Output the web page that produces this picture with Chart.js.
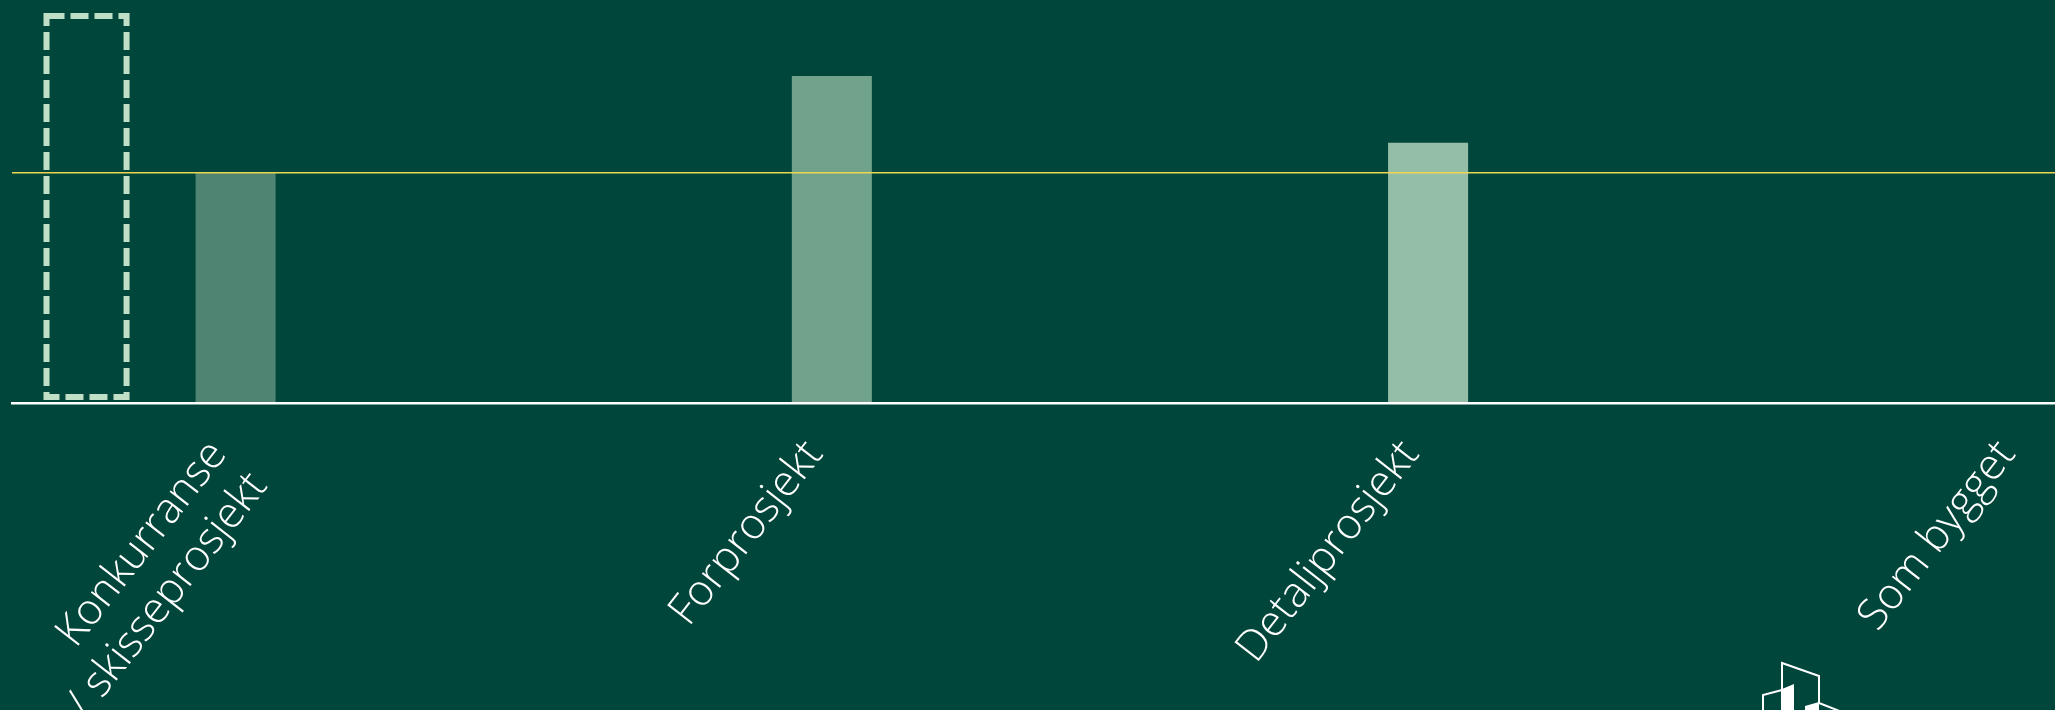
<!DOCTYPE html>
<html>
<head>
    <meta charset="utf-8">
    <style>
        body {
            margin: 0;
            padding: 0;
            overflow: hidden;
            background-color: #00463B;
        }
        #chartContainer {
            width: 2400px; /* wider than the window, the right part is cropped like the original */
            height: 710px;
        }
    </style>
</head>
<body>
    <div id="chartContainer">
        <canvas id="costChart"></canvas>
    </div>

    <script src="https://cdn.jsdelivr.net/npm/chart.js"></script>

    <script>
const phases = [["Konkurranse", "/ skisseprosjekt"], "Forprosjekt", "Detaljprosjekt", "Som bygget"];

// indexed so the reference line = 100
const rammeValues = [168, null, null, null];     // dashed frame
const kostnadValues = [100, 142, 113, null];      // cost per phase
const serie3Values = [null, null, null, null];
const serie4Values = [null, null, null, null];
const referanseNivaa = 100;

const barColors = ["#4E8471", "#71A28B", "#95BEA9", "#B7D6C4"];

// dashed outline around the frame bars
const dashedFrame = {
    id: 'dashedFrame',
    afterDatasetsDraw(chart) {
        const ctx = chart.ctx;
        const meta = chart.getDatasetMeta(0);
        meta.data.forEach((bar, i) => {
            if (rammeValues[i] == null) return;
            const p = bar.getProps(['x', 'y', 'base', 'width'], true);
            ctx.save();
            ctx.setLineDash([18, 6]);
            ctx.lineWidth = 6;
            ctx.strokeStyle = '#BFDFC6';
            ctx.strokeRect(p.x - p.width / 2, p.y, p.width, p.base - p.y - 6);
            ctx.restore();
        });
    }
};

// building logo, bottom right (cut off by the frame)
const logo = {
    id: 'logo',
    afterDraw(chart) {
        const ctx = chart.ctx;
        ctx.save();
        ctx.strokeStyle = '#FFFFFF';
        ctx.fillStyle = '#FFFFFF';
        ctx.lineWidth = 2;
        ctx.beginPath();
        ctx.moveTo(1782, 712); ctx.lineTo(1782, 663); ctx.lineTo(1819, 676); ctx.lineTo(1819, 703);
        ctx.lineTo(1842, 712);
        ctx.moveTo(1763, 712); ctx.lineTo(1763, 695); ctx.lineTo(1782, 690);
        ctx.stroke();
        ctx.beginPath();
        ctx.moveTo(1782, 689); ctx.lineTo(1794, 684); ctx.lineTo(1794, 712); ctx.lineTo(1782, 712);
        ctx.closePath();
        ctx.fill();
        ctx.beginPath();
        ctx.moveTo(1805, 712); ctx.lineTo(1805, 706); ctx.lineTo(1819, 702); ctx.lineTo(1819, 712);
        ctx.closePath();
        ctx.fill();
        ctx.restore();
    }
};

const common = { categoryPercentage: 1, barPercentage: 0.537, borderWidth: 0 };

const ctx = document.getElementById("costChart").getContext("2d");
new Chart(ctx, {
    type: "bar",
    data: {
        labels: phases,
        datasets: [
            Object.assign({ label: "Kostnadsramme", data: rammeValues, backgroundColor: "rgba(0,0,0,0)" }, common),
            Object.assign({ label: "Kostnad", data: kostnadValues, backgroundColor: barColors }, common),
            Object.assign({ label: "Serie 3", data: serie3Values, backgroundColor: "#95BEA9" }, common),
            Object.assign({ label: "Serie 4", data: serie4Values, backgroundColor: "#B7D6C4" }, common)
        ]
    },
    options: {
        responsive: true,
        maintainAspectRatio: false,
        animation: false,
        layout: { padding: { left: 12, right: 3, top: 0, bottom: 0 } },
        plugins: {
            legend: { display: false },
            tooltip: { enabled: false }
        },
        scales: {
            x: {
                type: 'category',
                offset: true,
                grid: { display: false, drawTicks: false },
                border: { display: true, color: '#FFFFFF', width: 2.5, z: 1 },
                ticks: {
                    color: '#FFFFFF',
                    font: { family: 'Open Sans', size: 43, weight: 300, lineHeight: 1.2 },
                    minRotation: 52,
                    maxRotation: 52,
                    autoSkip: false,
                    padding: 28,
                    labelOffset: -92
                },
                afterFit(scale) { scale.height = 307; }
            },
            y: {
                min: 0,
                max: 175,
                border: { display: false },
                grid: { color: '#EED652', lineWidth: 1.5, drawTicks: false, z: 1 },
                ticks: { display: false },
                afterBuildTicks(scale) { scale.ticks = [{ value: referanseNivaa }]; }
            }
        }
    },
    plugins: [dashedFrame, logo]
});
    </script>
</body>
</html>
